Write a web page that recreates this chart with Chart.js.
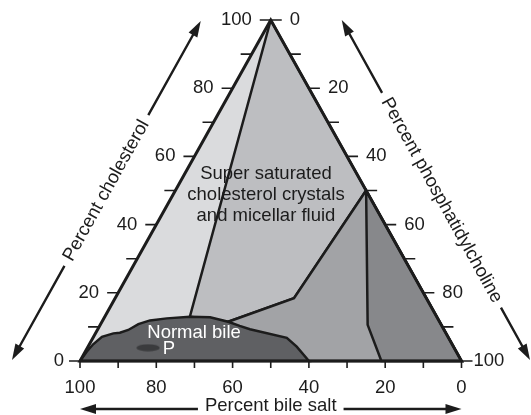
<!DOCTYPE html>
<html lang="en">
<head>
    <meta charset="UTF-8">
    <title>Bile composition triangle</title>
    <script src="https://cdn.jsdelivr.net/npm/chart.js"></script>
    <style>
        body {
            margin: 0;
            background: #fff;
        }
        #chart-container {
            width: 531px;
            height: 415px;
        }
    </style>
</head>
<body>
    <div id="chart-container">
        <canvas id="ternaryChart" width="531" height="415"></canvas>
    </div>

    <script>
        // every composition is [percent bile salt, percent cholesterol], phosphatidylcholine is the rest
        const triangleCorners = [[100, 0], [0, 100], [0, 0]];
        const crystalBoundary = [[0, 100], [64.7, 13.0]];
        const micellarBoundary = [[55.4, 11.5], [34.7, 18.4], [0, 50]];
        const liquidBoundary = [[0, 50], [19.3, 10.6], [21, 0]];
        const normalBile = [[100, 0], [96.9, 2.7], [94.1, 4.9], [90.7, 7.1], [87.2, 8.1], [85.4, 8.3],
            [82.8, 9.1], [79.3, 10.8], [75.7, 11.9], [71.0, 12.5], [64.7, 13.0], [59.5, 12.8],
            [55.4, 11.5], [53.0, 10.3], [50.8, 9.3], [42.4, 6.8], [41.1, 4.2], [40, 0]];
        const pointP = [[80.2, 3.9]];

        const majorTicks = [0, 20, 40, 60, 80, 100];
        const minorTicks = [10, 30, 50, 70, 90];
        const axisTitles = ['Percent cholesterol', 'Percent phosphatidylcholine', 'Percent bile salt'];
        const regionLabel = ['Super saturated', 'cholesterol crystals', 'and micellar fluid'];
        const regionLabelAt = [26.9, 48.7];
        const normalLabelAt = [66.0, 8.2];
        const pLabelAt = [75.0, 3.4];

        const INK = '#1c1c1c';
        const FONT = '18.5px "Liberation Sans", Arial, sans-serif';

        // ternary -> cartesian (x runs 0..100 from the bile salt corner to the PC corner)
        function toXY(p) {
            return {x: 100 - p[0] - p[1] / 2, y: p[1]};
        }
        function shape(points) {
            return points.map(toXY);
        }

        function region(points, color, order) {
            return {
                data: shape(points),
                showLine: true,
                fill: 'shape',
                backgroundColor: color,
                borderColor: INK,
                borderWidth: 2.5,
                pointRadius: 0,
                tension: 0,
                clip: false,
                order: order
            };
        }

        // dark spot used for the P marker
        const spot = document.createElement('canvas');
        spot.width = 24;
        spot.height = 8;
        const sctx = spot.getContext('2d');
        sctx.fillStyle = '#3a3b3d';
        sctx.beginPath();
        sctx.ellipse(12, 4, 11.7, 3.6, 0, 0, Math.PI * 2);
        sctx.fill();

        function arrowHead(ctx, x0, y0, x1, y1) {
            const a = Math.atan2(y1 - y0, x1 - x0);
            const c = Math.cos(a), s = Math.sin(a);
            ctx.beginPath();
            ctx.moveTo(x1, y1);
            ctx.lineTo(x1 - 16 * c + 5 * s, y1 - 16 * s - 5 * c);
            ctx.lineTo(x1 - 16 * c - 5 * s, y1 - 16 * s + 5 * c);
            ctx.closePath();
            ctx.fill();
        }

        // double headed arrow with its title sitting in a gap at fraction t
        function titledArrow(ctx, text, x0, y0, x1, y1, t, dy) {
            const len = Math.hypot(x1 - x0, y1 - y0);
            const ux = (x1 - x0) / len, uy = (y1 - y0) / len;
            const cx = x0 + ux * len * t, cy = y0 + uy * len * t;
            const half = ctx.measureText(text).width / 2 + 7;
            ctx.beginPath();
            ctx.moveTo(x0 + ux * 8, y0 + uy * 8);
            ctx.lineTo(cx - ux * half, cy - uy * half);
            ctx.moveTo(cx + ux * half, cy + uy * half);
            ctx.lineTo(x1 - ux * 8, y1 - uy * 8);
            ctx.stroke();
            arrowHead(ctx, cx, cy, x0, y0);
            arrowHead(ctx, cx, cy, x1, y1);
            let ang = Math.atan2(uy, ux);
            if (ang > Math.PI / 2) ang -= Math.PI;
            if (ang < -Math.PI / 2) ang += Math.PI;
            ctx.save();
            ctx.translate(cx, cy);
            ctx.rotate(ang);
            ctx.textAlign = 'center';
            ctx.fillText(text, 0, dy);
            ctx.restore();
        }

        const ternaryFrame = {
            id: 'ternaryFrame',
            afterDatasetsDraw(chart) {
                const ctx = chart.ctx;
                const xs = chart.scales.x, ys = chart.scales.y;
                const at = (p) => {
                    const q = toXY(p);
                    return {x: xs.getPixelForValue(q.x), y: ys.getPixelForValue(q.y)};
                };
                ctx.save();
                ctx.strokeStyle = INK;
                ctx.fillStyle = INK;
                ctx.font = FONT;
                ctx.textBaseline = 'middle';

                // tick marks on the three sides
                ctx.lineWidth = 1.6;
                ctx.beginPath();
                majorTicks.concat(minorTicks).forEach(v => {
                    const l = at([100 - v, v]);
                    ctx.moveTo(l.x - 11, l.y);
                    ctx.lineTo(l.x, l.y);
                    const r = at([0, v]);
                    ctx.moveTo(r.x, r.y);
                    ctx.lineTo(r.x + 11, r.y);
                    const b = at([v, 0]);
                    ctx.moveTo(b.x, b.y);
                    ctx.lineTo(b.x, b.y + 7);
                });
                ctx.stroke();

                majorTicks.forEach(v => {
                    const l = at([100 - v, v]);
                    ctx.textAlign = 'right';
                    ctx.fillText(String(v), l.x - (v === 0 ? 16 : 19), l.y);
                    const r = at([0, v]);
                    ctx.textAlign = 'left';
                    ctx.fillText(String(100 - v), r.x + (v === 0 ? 12 : 19), r.y);
                    const b = at([v, 0]);
                    ctx.textAlign = 'center';
                    ctx.fillText(String(v), b.x, b.y + 27);
                });

                // axis titles with arrows
                const L = at(triangleCorners[0]), A = at(triangleCorners[1]), R = at(triangleCorners[2]);
                ctx.lineWidth = 2.4;
                titledArrow(ctx, axisTitles[0], L.x - 68, L.y - 1, A.x - 70, A.y + 1, 0.5, 0);
                titledArrow(ctx, axisTitles[1], A.x + 71, A.y, R.x + 68.5, R.y - 1, 0.53, 0);
                titledArrow(ctx, axisTitles[2], L.x, L.y + 48, R.x, R.y + 48, 0.5, -3);

                // labels inside the triangle
                ctx.textAlign = 'center';
                const c = at(regionLabelAt);
                regionLabel.forEach((line, i) => ctx.fillText(line, c.x, c.y + (i - 1) * 21));
                ctx.fillStyle = '#ffffff';
                const n = at(normalLabelAt);
                ctx.fillText('Normal bile', n.x, n.y);
                const p = at(pLabelAt);
                ctx.fillText('P', p.x, p.y);
                ctx.restore();
            }
        };

        const chartCanvas = document.getElementById('ternaryChart').getContext('2d');

        new Chart(chartCanvas, {
            type: 'scatter',
            data: {
                datasets: [
                    {
                        data: shape([...triangleCorners, triangleCorners[0], triangleCorners[1]]),
                        showLine: true,
                        fill: false,
                        borderColor: INK,
                        borderWidth: 3,
                        pointRadius: 0,
                        clip: false,
                        order: 0
                    },
                    {
                        data: shape(pointP),
                        pointStyle: spot,
                        pointRadius: 6,
                        order: 1
                    },
                    region([...normalBile, normalBile[0]], '#5f6063', 2),
                    region([...liquidBoundary, [0, 0], liquidBoundary[0]], '#87888b', 3),
                    region([...micellarBoundary, [0, 0], [40, 0], micellarBoundary[0]], '#a2a3a6', 4),
                    region([...crystalBoundary, ...micellarBoundary, crystalBoundary[0]], '#bdbec1', 5),
                    {
                        data: shape([...triangleCorners, triangleCorners[0]]),
                        showLine: true,
                        fill: 'shape',
                        backgroundColor: '#dadbdd',
                        borderWidth: 0,
                        pointRadius: 0,
                        order: 6
                    }
                ]
            },
            options: {
                responsive: false,
                animation: false,
                events: [],
                layout: {
                    padding: {left: 80, right: 69.5, top: 20, bottom: 54}
                },
                scales: {
                    x: {type: 'linear', min: 0, max: 100, display: false},
                    y: {type: 'linear', min: 0, max: 100, display: false}
                },
                plugins: {
                    legend: {display: false},
                    tooltip: {enabled: false}
                }
            },
            plugins: [ternaryFrame]
        });
    </script>
</body>
</html>
